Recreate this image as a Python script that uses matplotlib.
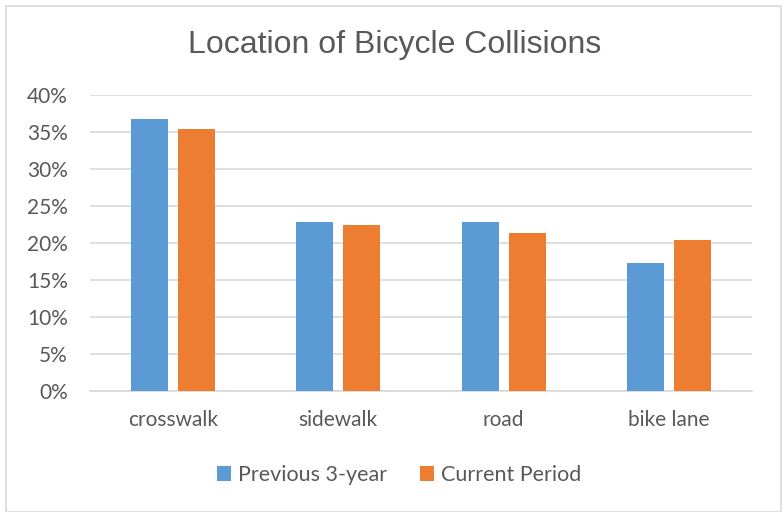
import numpy as np
import matplotlib.pyplot as plt
from matplotlib.patches import Rectangle

categories = ['crosswalk', 'sidewalk', 'road', 'bike lane']
previous = [36.7, 22.9, 22.9, 17.3]
current = [35.4, 22.5, 21.4, 20.4]
series_names = ['Previous 3-year', 'Current Period']

BLUE = '#5b9bd5'
ORANGE = '#ed7d31'
GRAY = '#595959'

plt.rcParams['font.family'] = ['Lato', 'DejaVu Sans']

fig = plt.figure(figsize=(7.83, 5.12), dpi=100)
fig.patches.append(Rectangle((6 / 783, 0), 775 / 783, 1 - 6 / 512, transform=fig.transFigure,
                             fill=False, edgecolor='#d9d9d9', linewidth=1.2))
ax = fig.add_axes([90 / 783, 1 - 391 / 512, (752 - 90) / 783, (391 - 95) / 512])

x = np.arange(len(categories))
w = 0.225
gap = 0.06
ax.bar(x - (w + gap) / 2, previous, w, color=BLUE, label=series_names[0], zorder=3)
ax.bar(x + (w + gap) / 2, current, w, color=ORANGE, label=series_names[1], zorder=3)

ax.set_xlim(-0.5, len(categories) - 0.5)
ax.set_ylim(0, 40)
ax.set_yticks(range(0, 41, 5))
ax.set_yticklabels([f'{v}%' for v in range(0, 41, 5)])
ax.set_xticks(x)
ax.set_xticklabels(categories)
ax.yaxis.grid(True, color='#d9d9d9', linewidth=1.2, zorder=0)
for s in ['top', 'right', 'left']:
    ax.spines[s].set_visible(False)
ax.spines['bottom'].set_color('#d9d9d9')
ax.spines['bottom'].set_linewidth(1.2)
ax.tick_params(axis='both', length=0, labelsize=15, labelcolor=GRAY)
ax.tick_params(axis='x', pad=14)
ax.tick_params(axis='y', pad=16)

fig.text(395 / 783, 1 - 45 / 512, 'Location of Bicycle Collisions', ha='center', va='center',
         fontsize=23, color=GRAY, family=['Liberation Sans', 'DejaVu Sans'])

fig.legend(loc='center', bbox_to_anchor=(399 / 783, 1 - 475 / 512), ncol=2, frameon=False,
           fontsize=15.5, labelcolor=GRAY, handlelength=0.65, handleheight=0.65,
           handletextpad=0.3, columnspacing=1.55)

fig.savefig('out.png', dpi=100)
